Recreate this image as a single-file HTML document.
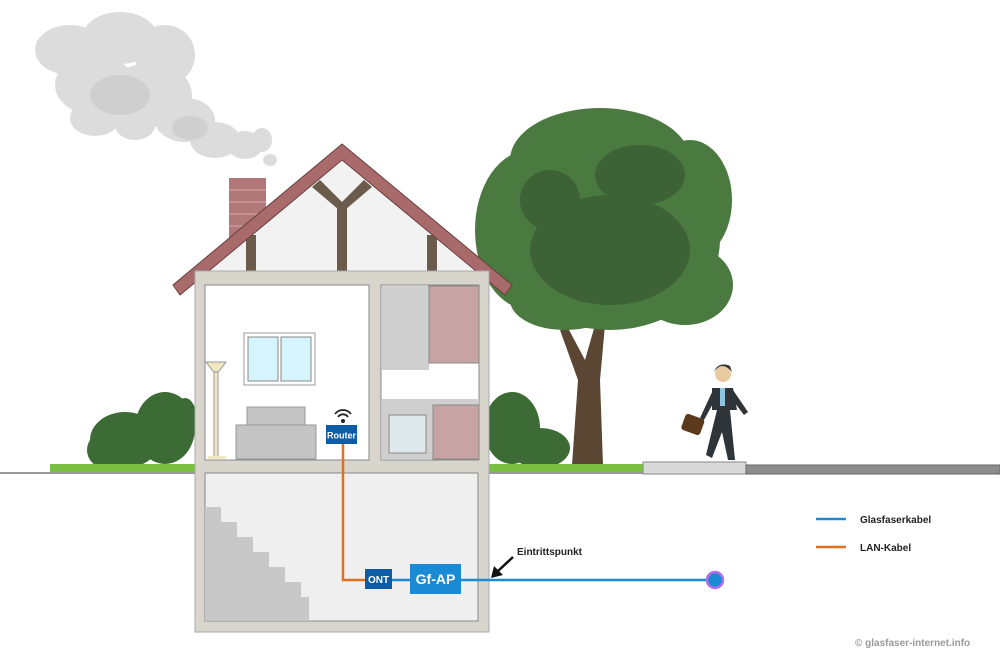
<!DOCTYPE html>
<html><head><meta charset="utf-8"><style>
html,body{margin:0;padding:0;background:#fff;}
svg{display:block;font-family:"Liberation Sans",Arial,sans-serif;}
</style></head><body>
<svg width="1000" height="664" viewBox="0 0 1000 664" xmlns="http://www.w3.org/2000/svg">
<rect width="1000" height="664" fill="#fff"/>
<!-- smoke -->
<g fill="#dcdcdc">
<ellipse cx="70" cy="50" rx="35" ry="25"/><ellipse cx="120" cy="38" rx="38" ry="26"/><ellipse cx="165" cy="55" rx="30" ry="30"/>
<ellipse cx="95" cy="85" rx="40" ry="30"/><ellipse cx="150" cy="95" rx="42" ry="32"/><ellipse cx="95" cy="118" rx="25" ry="18"/>
<ellipse cx="135" cy="125" rx="20" ry="15"/><ellipse cx="185" cy="120" rx="30" ry="22"/><ellipse cx="215" cy="140" rx="25" ry="18"/>
<ellipse cx="245" cy="145" rx="18" ry="14"/><ellipse cx="262" cy="140" rx="10" ry="12"/><ellipse cx="270" cy="160" rx="7" ry="6"/>
</g>
<g fill="#cfcfcf"><ellipse cx="120" cy="95" rx="30" ry="20"/><ellipse cx="190" cy="128" rx="18" ry="12"/></g>
<!-- bushes -->
<g fill="#3d6b35">
<ellipse cx="125" cy="440" rx="35" ry="28"/><ellipse cx="165" cy="428" rx="30" ry="36"/><ellipse cx="105" cy="450" rx="18" ry="18"/><ellipse cx="185" cy="420" rx="12" ry="22"/>
<ellipse cx="512" cy="428" rx="28" ry="36"/><ellipse cx="540" cy="448" rx="30" ry="20"/>
</g>
<!-- tree -->
<path d="M572 465 L578 380 L560 330 L568 328 L585 360 L595 325 L605 325 L600 380 L603 465 Z" fill="#5a4632"/>
<g fill="#4a7a40">
<ellipse cx="600" cy="160" rx="90" ry="52"/><ellipse cx="530" cy="230" rx="55" ry="80"/><ellipse cx="610" cy="240" rx="110" ry="90"/>
<ellipse cx="685" cy="285" rx="48" ry="40"/><ellipse cx="565" cy="300" rx="55" ry="30"/><ellipse cx="690" cy="200" rx="42" ry="60"/>
</g>
<g fill="#3d6235"><ellipse cx="610" cy="250" rx="80" ry="55"/><ellipse cx="640" cy="175" rx="45" ry="30"/><ellipse cx="550" cy="200" rx="30" ry="30"/></g>
<!-- grass / ground -->
<rect x="50" y="464" width="600" height="9" fill="#7cc043"/>
<line x1="0" y1="473" x2="1000" y2="473" stroke="#999" stroke-width="2"/>
<rect x="643" y="462" width="103" height="12" fill="#d9d9d9" stroke="#888"/>
<rect x="746" y="465" width="254" height="9" fill="#8c8c8c" stroke="#666"/>
<!-- chimney -->
<rect x="229" y="178" width="37" height="60" fill="#b07878"/>
<g stroke="#d8a8a8" stroke-width="1"><line x1="229" y1="190" x2="266" y2="190"/><line x1="229" y1="202" x2="266" y2="202"/><line x1="229" y1="214" x2="266" y2="214"/><line x1="229" y1="226" x2="266" y2="226"/></g>
<!-- gable -->
<polygon points="342,158 200,278 484,278" fill="#f2f2f2"/>
<g fill="#6b5b4a">
<rect x="246" y="235" width="10" height="37"/><rect x="337" y="205" width="10" height="67"/><rect x="427" y="235" width="10" height="37"/>
<polygon points="312,187 320,180 345,205 345,215"/><polygon points="372,187 364,180 339,205 339,215"/>
</g>
<!-- roof -->
<polygon points="342,144 512,285 505,295 342,160 180,295 173,285" fill="#a86a6a" stroke="#6b4040"/>
<!-- house body -->
<rect x="195" y="271" width="294" height="361" fill="#d8d5cc" stroke="#aaa"/>
<rect x="205" y="285" width="164" height="175" fill="#fff" stroke="#888"/>
<rect x="381" y="285" width="98" height="175" fill="#fff" stroke="#888"/>
<rect x="205" y="473" width="273" height="148" fill="#efefef" stroke="#888"/>
<!-- stairs -->
<polygon points="205,507 221,507 221,522 237,522 237,537 253,537 253,552 269,552 269,567 285,567 285,582 301,582 301,597 309,597 309,621 205,621" fill="#c8c8c8"/>
<!-- kitchen -->
<rect x="382" y="286" width="47" height="84" fill="#cfcfcf"/>
<rect x="429" y="286" width="50" height="77" fill="#c8a3a3" stroke="#888"/>
<rect x="382" y="399" width="97" height="60" fill="#cfcfcf"/>
<rect x="433" y="405" width="46" height="54" fill="#c8a3a3" stroke="#888"/>
<rect x="389" y="415" width="37" height="38" fill="#dfe8ea" stroke="#888"/>
<!-- window -->
<rect x="244" y="333" width="71" height="52" fill="#fff" stroke="#999"/>
<rect x="248" y="337" width="30" height="44" fill="#d6f4fb" stroke="#888"/><rect x="281" y="337" width="30" height="44" fill="#d6f4fb" stroke="#888"/>
<!-- lamp -->
<polygon points="206,362 226,362 216,375" fill="#f0e6c0" stroke="#999"/>
<rect x="214" y="372" width="4" height="86" fill="#f0e6c0" stroke="#999"/>
<rect x="208" y="456" width="18" height="3" fill="#f0e6c0"/>
<!-- sofa -->
<rect x="247" y="407" width="58" height="40" fill="#c4c4c4" stroke="#999"/>
<rect x="236" y="425" width="80" height="34" fill="#c4c4c4" stroke="#999"/>
<!-- router -->
<g fill="none" stroke="#222" stroke-width="1.8"><path d="M335 414 A10 10 0 0 1 351 414"/><path d="M338 417 A6 6 0 0 1 348 417"/></g>
<circle cx="343" cy="421" r="2" fill="#222"/>
<polyline points="343,444 343,580 365,580" fill="none" stroke="#e07020" stroke-width="2.5"/>
<rect x="326" y="425" width="31" height="19" fill="#0d5ca8"/>
<text x="341.5" y="438.5" font-size="9" font-weight="bold" fill="#fff" text-anchor="middle">Router</text>
<!-- fiber -->
<line x1="392" y1="580" x2="715" y2="580" stroke="#1a8ad4" stroke-width="2.5"/>
<rect x="365" y="569" width="27" height="20" fill="#0d5ca8"/>
<text x="378.5" y="583" font-size="10" font-weight="bold" fill="#fff" text-anchor="middle">ONT</text>
<rect x="410" y="564" width="51" height="30" fill="#1a8ad4"/>
<text x="435.5" y="584" font-size="14" font-weight="bold" fill="#fff" text-anchor="middle">Gf-AP</text>
<circle cx="715" cy="580" r="8" fill="#1a8ad4" stroke="#b36cf0" stroke-width="2.5"/>
<!-- arrow -->
<line x1="513" y1="557" x2="498" y2="571" stroke="#111" stroke-width="2.5"/>
<polygon points="491,578 494,566 503,575" fill="#111"/>
<text x="517" y="555" font-size="10" font-weight="bold" fill="#222">Eintrittspunkt</text>
<!-- person -->
<circle cx="723" cy="374" r="8" fill="#e8c9a0"/><path d="M714 372 Q722 360 732 372 L730 366 Q722 362 716 368Z" fill="#333"/>
<path d="M712 388 L733 388 L737 410 L730 410 L735 460 L728 460 L722 432 L712 458 L706 455 L717 410 L712 410 Z" fill="#2e3437"/>
<path d="M713 390 L700 418 L704 420 L716 398Z" fill="#2e3437"/><path d="M733 390 L748 412 L744 415 L731 398Z" fill="#2e3437"/>
<rect x="720" y="388" width="5" height="18" fill="#8fc3e0"/>
<rect x="683" y="416" width="20" height="17" rx="3" fill="#5a3a1a" transform="rotate(20 693 424)"/>
<!-- legend -->
<line x1="816" y1="519" x2="846" y2="519" stroke="#1a8ad4" stroke-width="2.5"/>
<text x="860" y="523" font-size="10" font-weight="bold" fill="#222">Glasfaserkabel</text>
<line x1="816" y1="547" x2="846" y2="547" stroke="#e07020" stroke-width="2.5"/>
<text x="860" y="551" font-size="10" font-weight="bold" fill="#222">LAN-Kabel</text>
<text x="855" y="646" font-size="10" font-weight="bold" fill="#999">© glasfaser-internet.info</text>
</svg>
</body></html>
